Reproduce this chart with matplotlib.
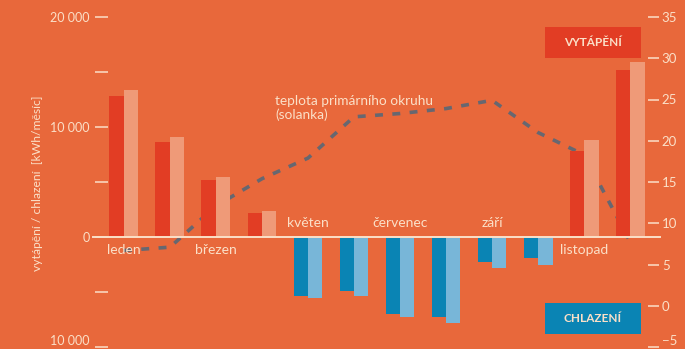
"""Monthly heating / cooling energy with brine temperature (Czech chart)."""

import matplotlib

matplotlib.use("Agg")
import matplotlib.pyplot as plt
import numpy as np
from matplotlib.patches import Rectangle

# --- data -----------------------------------------------------------------
months = ["leden", "únor", "březen", "duben", "květen", "červen",
          "červenec", "srpen", "září", "říjen", "listopad", "prosinec"]
heat_a = [12800, 8600, 5150, 2200, 0, 0, 0, 0, 0, 0, 7850, 15150]
heat_b = [13400, 9050, 5450, 2400, 0, 0, 0, 0, 0, 0, 8850, 15900]
cool_a = [0, 0, 0, 0, -5350, -4950, -7000, -7250, -2300, -1950, 0, 0]
cool_b = [0, 0, 0, 0, -5550, -5350, -7300, -7850, -2850, -2550, 0, 0]
brine_temp = [6.7, 7.1, 12.1, 15.4, 17.9, 22.9, 23.3, 23.9, 24.9, 21.0, 18.3, 7.8]

left_ticks = [20000, 15000, 10000, 5000, 0, -5000, -10000]
left_labels = ["20 000", "", "10 000", "", "0", "", "10 000"]
right_ticks = [35, 30, 25, 20, 15, 10, 5, 0, -5]

# --- style ----------------------------------------------------------------
BG = "#e8683b"
RED = "#e23d24"
SALMON = "#ef9a78"
BLUE = "#0a84b4"
LIGHT_BLUE = "#78b6d8"
PALE = "#fbe0c8"
LINE = "#676770"

plt.rcParams["font.family"] = ["Lato", "DejaVu Sans"]

fig = plt.figure(figsize=(6.85, 3.49), dpi=100, facecolor=BG)
ax = fig.add_axes([95 / 685, 1 - 347 / 349, 564 / 685, 330 / 349])
ax2 = ax.twinx()
ax.set_zorder(ax2.get_zorder() + 1)
ax.patch.set_visible(False)
ax2.patch.set_visible(False)

x = np.arange(len(months))
w = 0.315
ax.bar(x - w / 2, heat_a, w, color=RED, zorder=3)
ax.bar(x + w / 2, heat_b, w, color=SALMON, zorder=3)
ax.bar(x - w / 2, cool_a, w, color=BLUE, zorder=3)
ax.bar(x + w / 2, cool_b, w, color=LIGHT_BLUE, zorder=3)
ax.axhline(0, color=PALE, lw=1.4, zorder=4, xmin=-0.004, xmax=1.002,
           clip_on=False)

ax2.plot(x, brine_temp, color=LINE, lw=2.6, linestyle=(0, (2.2, 2.6)))

ax.set_xlim(-0.63, 11.63)
ax.set_ylim(-10000, 20000)
ax2.set_ylim(-5, 35)
ax.set_xticks([])

ax.set_yticks(left_ticks)
ax.set_yticklabels(left_labels)
ax2.set_yticks(right_ticks)
for a in (ax, ax2):
    for s in a.spines.values():
        s.set_visible(False)
ax.tick_params(axis="y", direction="in", length=9.4, width=1.1, color=PALE,
               labelcolor=PALE, labelsize=9, pad=4)
ax2.tick_params(axis="y", direction="in", length=8, width=1.1, color=PALE,
                labelcolor=PALE, labelsize=9.5, pad=2)
# lowest labels sit at the bottom edge; lift them so they stay inside
ax.get_yticklabels()[-1].set_va("bottom")
ax2.get_yticklabels()[-1].set_va("bottom")

ax.set_ylabel("vytápění / chlazení  [kWh/měsíc]", color=PALE, fontsize=8.7)
ax.yaxis.set_label_coords(-0.093, 0.495)

# month names on every other group, below for heating, above for cooling
for i in range(0, len(months), 2):
    below = heat_a[i] > 0
    ax.annotate(months[i], (x[i], 0), xytext=(0, -5 if below else 6),
                textcoords="offset points", ha="center",
                va="top" if below else "bottom", color=PALE, fontsize=10,
                zorder=5)

fig.text(275 / 685, 1 - 108 / 349, "teplota primárního okruhu\n(solanka)",
         color=PALE, fontsize=9.8, va="center", ha="left", linespacing=1.15)

# legend boxes
for y0, color, label in [(27, RED, "VYTÁPĚNÍ"), (303, BLUE, "CHLAZENÍ")]:
    fig.add_artist(Rectangle((545 / 685, 1 - (y0 + 31) / 349), 96 / 685,
                             31 / 349, transform=fig.transFigure,
                             facecolor=color, edgecolor="none"))
    fig.text(593 / 685, 1 - (y0 + 15.5) / 349, label, color=PALE,
             fontsize=8.5, fontweight="bold", ha="center", va="center")

fig.savefig("out.png", dpi=100, facecolor=BG)
